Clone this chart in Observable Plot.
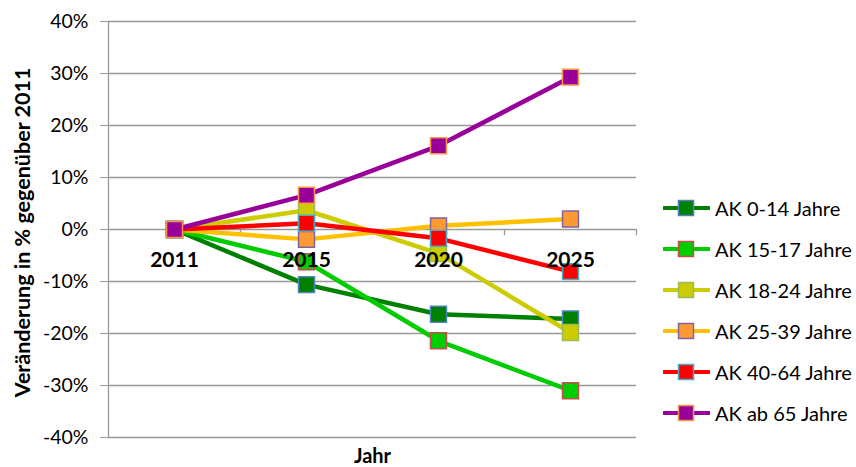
<!DOCTYPE html>
<html>
<head>
<meta charset="utf-8">
<script src="https://cdn.jsdelivr.net/npm/d3@7"></script>
<script src="https://cdn.jsdelivr.net/npm/@observablehq/plot@0.6"></script>
<style>
  html, body { margin: 0; padding: 0; background: #fff; }
  #wrap { position: relative; width: 856px; height: 467px; font-family: Lato, "Open Sans", sans-serif; }
  #legend { position: absolute; left: 663px; top: 187px; }
  .item { display: flex; align-items: center; height: 41px; font-size: 20px; color: #000; }
  .item svg { margin-right: 5px; flex: none; }
  g[aria-label="y-axis tick"] path { stroke: #999; }
</style>
</head>
<body>
<div id="wrap"></div>
<script>
// Bevölkerungsveränderung nach Altersklassen, in % gegenüber 2011
const years = ["2011", "2015", "2020", "2025"];
const seriesNames = ["AK 0-14 Jahre", "AK 15-17 Jahre", "AK 18-24 Jahre", "AK 25-39 Jahre", "AK 40-64 Jahre", "AK ab 65 Jahre"];
const ak0_14  = [0, -10.6, -16.3, -17.2];
const ak15_17 = [0, -6.2, -21.4, -31.0];
const ak18_24 = [0, 3.7, -4.6, -19.8];
const ak25_39 = [0, -1.9, 0.7, 2.0];
const ak40_64 = [0, 1.2, -1.7, -8.1];
const ak65    = [0, 6.6, 16.1, 29.3];
const seriesValues = [ak0_14, ak15_17, ak18_24, ak25_39, ak40_64, ak65];
const yTicks = [-40, -30, -20, -10, 0, 10, 20, 30, 40];

// Linienfarben, Markerfüllung und Markerrand je Serie
const lineColors   = ["#008000", "#00cc00", "#cccc00", "#ffc000", "#ff0000", "#990099"];
const markerFill   = ["#008000", "#00cc00", "#cccc00", "#ff9933", "#ff0000", "#990099"];
const markerBorder = ["#4f81bd", "#c0504d", "#9bbb59", "#8064a2", "#4bacc6", "#f79646"];

const rows = seriesNames.map((name, s) =>
  years.map((year, i) => ({series: name, s, i, year, v: seriesValues[s][i]}))
);
const boundaries = years.map((_, i) => i + 0.5);

const seriesMarks = rows.flatMap((data, s) => [
  Plot.line(data, {x: "i", y: "v", stroke: lineColors[s], strokeWidth: 4.5, strokeLinejoin: "round"}),
  Plot.dot(data, {x: "i", y: "v", symbol: "square", r: 9, fill: markerFill[s], stroke: markerBorder[s], strokeWidth: 1.5})
]);

const chart = Plot.plot({
  width: 856,
  height: 467,
  marginLeft: 108,
  marginRight: 220,
  marginTop: 21,
  marginBottom: 30,
  x: {domain: [-0.5, years.length - 0.5], axis: null},
  y: {domain: [-40, 40], axis: null},
  style: {fontFamily: "Lato, 'Open Sans', sans-serif", background: "#fff", overflow: "visible"},
  marks: [
    Plot.ruleY(yTicks, {stroke: "#999", strokeWidth: 1.3}),
    Plot.ruleX([-0.5], {stroke: "#999", strokeWidth: 1.3}),
    Plot.ruleX(boundaries, {y1: 0, y2: -1.2, stroke: "#999", strokeWidth: 1.3}),
    Plot.axisY({ticks: yTicks, tickFormat: d => d + "%", tickSize: 8, tickPadding: 12, fontSize: 19.5, label: null, color: "#000"}),
    ...seriesMarks,
    Plot.text(years, {x: (d, i) => i, y: 0, dy: 31, text: d => d, fontWeight: "bold", fontSize: 21, fill: "#000"}),
    Plot.text(["Jahr"], {frameAnchor: "bottom", lineAnchor: "middle", dy: 19, text: d => d, fontWeight: "bold", fontSize: 20, fill: "#000"}),
    Plot.text(["Veränderung in % gegenüber 2011"], {frameAnchor: "left", textAnchor: "middle", lineAnchor: "middle", rotate: -90, dx: -85, dy: 3, text: d => d, fontWeight: "bold", fontSize: 21.5, fill: "#000"})
  ]
});

const wrap = document.getElementById("wrap");
wrap.appendChild(chart);

// Legende rechts neben dem Diagramm
const legend = document.createElement("div");
legend.id = "legend";
seriesNames.forEach((name, s) => {
  const item = document.createElement("div");
  item.className = "item";
  item.innerHTML =
    `<svg width="47" height="20"><line x1="1" x2="46" y1="10" y2="10" stroke="${lineColors[s]}" stroke-width="4" stroke-linecap="round"/>` +
    `<rect x="15.5" y="2.5" width="15" height="15" fill="${markerFill[s]}" stroke="${markerBorder[s]}" stroke-width="1.5"/></svg>` +
    `<span>${name}</span>`;
  legend.appendChild(item);
});
wrap.appendChild(legend);
</script>
</body>
</html>
